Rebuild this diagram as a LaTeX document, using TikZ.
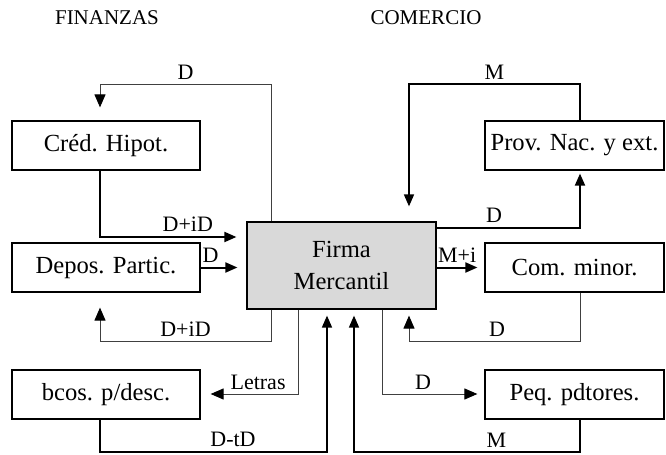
\documentclass[tikz,border=0pt]{standalone}
\usepackage{fontspec}
\setmainfont{Liberation Serif}
\usetikzlibrary{arrows.meta,positioning}

\begin{document}
\begin{tikzpicture}[x = 0.5pt, y = -0.5pt, >={Triangle[length=6pt, width=5pt, black]}, font = \fontsize{11}{13}\selectfont]
	\tikzstyle{ente} = [rectangle, draw = black, line width = 0.6pt, minimum width = 94pt, minimum height = 24.5pt, inner sep = 0pt, font = \fontsize{12.3}{14}\selectfont]
	\tikzstyle{comercio} = [ente, minimum width = 89.5pt]
	\tikzstyle{firma} = [ente, fill = black!15, minimum width = 94.5pt, minimum height = 43.5pt, align = center, font = \fontsize{12.3}{16}\selectfont]
	\tikzstyle{sector} = [font = \fontsize{10.5}{12}\selectfont]
	\tikzstyle{rotulo} = [above, inner sep = 2pt]
	\tikzstyle{fino} = [line width = 0.5pt, draw = black!75, >={Triangle[length=6.5pt, width=5.5pt, black]}]
	\tikzstyle{medio} = [line width = 0.8pt]
	\tikzstyle{grueso} = [line width = 1pt]
	\useasboundingbox (0,0) rectangle (666,455);
    \begin{scope}
	    % sectores
	    \node [sector] (finanzas) at (107,18) {FINANZAS};
	    \node [sector] (comerc) at (426,18) {COMERCIO};
	    % entes
	    \node [ente] (cred) at (106,145.5) {Créd. Hipot.};
	    \node [ente] (depos) at (106,267.5) {Depos. Partic.};
	    \node [ente] (bcos) at (106,394.5) {bcos. p/desc.};
	    \node [firma] (firma) at (341.5,265.5) {Firma\\Mercantil};
	    \node [comercio] (prov) at (574.5,145.5) {Prov. Nac. y ext.};
	    \node [comercio] (com) at (574.5,267.5) {Com. minor.};
	    \node [comercio] (peq) at (574.5,394.5) {Peq. pdtores.};
	    % puntos de quiebre
	    \coordinate (t1) at (271,84);
	    \coordinate (t2) at (100,84);
	    \coordinate (t3) at (580,84);
	    \coordinate (t4) at (409,84);
	    \coordinate (b1) at (100,237);
	    \coordinate (b2) at (271,341);
	    \coordinate (b3) at (100,341);
	    \coordinate (b4) at (298,394);
	    \coordinate (b5) at (100,452);
	    \coordinate (b6) at (327,452);
	    \coordinate (r1) at (580,228);
	    \coordinate (r2) at (580,341);
	    \coordinate (r3) at (409,341);
	    \coordinate (r4) at (382,394);
	    \coordinate (r5) at (580,452);
	    \coordinate (r6) at (354,452);
	    % finanzas
	    \draw [fino, ->, shorten >=6.5pt] (firma.north -| t1) -- (t1) -- node [rotulo] (l1) {D} (t2) -- (cred.north -| t2);
	    \draw [grueso, ->, shorten >=5pt] (cred.south -| b1) -- (b1) -- node [rotulo, pos = 0.6] (l2) {D+iD} (firma.west |- b1);
	    \draw [grueso, ->, shorten >=4.5pt] (depos.east) -- node [rotulo, pos = 0.22] (l3) {D} (firma.west |- depos.east);
	    \draw [fino, ->, shorten >=7.5pt] (firma.south -| b2) -- (b2) -- node [rotulo] (l4) {D+iD} (b3) -- (depos.south -| b3);
	    \draw [fino, ->, shorten >=5pt] (firma.south -| b4) -- (b4) -- node [rotulo, pos = 0.41] (l5) {Letras} (bcos.east |- b4);
	    \draw [medio, ->, shorten >=3pt] (bcos.south -| b5) -- (b5) -- node [rotulo, pos = 0.586] (l6) {D-tD} (b6) -- (firma.south -| b6);
	    % comercio
	    \draw [medio, ->, shorten >=7.5pt] (prov.north -| t3) -- (t3) -- node [rotulo] (l7) {M} (t4) -- (firma.north -| t4);
	    \draw [grueso, ->, shorten >=1.5pt] (firma.east |- r1) -- node [rotulo, pos = 0.4] (l8) {D} (r1) -- (prov.south -| r1);
	    \draw [grueso, ->, shorten >=3.5pt] (firma.east |- com.west) -- node [rotulo, pos = 0.43] (l9) {M+i} (com.west);
	    \draw [fino, ->, shorten >=3pt] (com.south -| r2) -- (r2) -- node [rotulo, pos = 0.485] (l10) {D} (r3) -- (firma.south -| r3);
	    \draw [fino, ->, shorten >=3.5pt] (firma.south -| r4) -- (r4) -- node [rotulo, pos = 0.4] (l11) {D} (peq.west |- r4);
	    \draw [medio, ->, shorten >=3pt] (peq.south -| r5) -- (r5) -- node [rotulo, pos = 0.37] (l12) {M} (r6) -- (firma.south -| r6);
    \end{scope}
\end{tikzpicture}
\end{document}
